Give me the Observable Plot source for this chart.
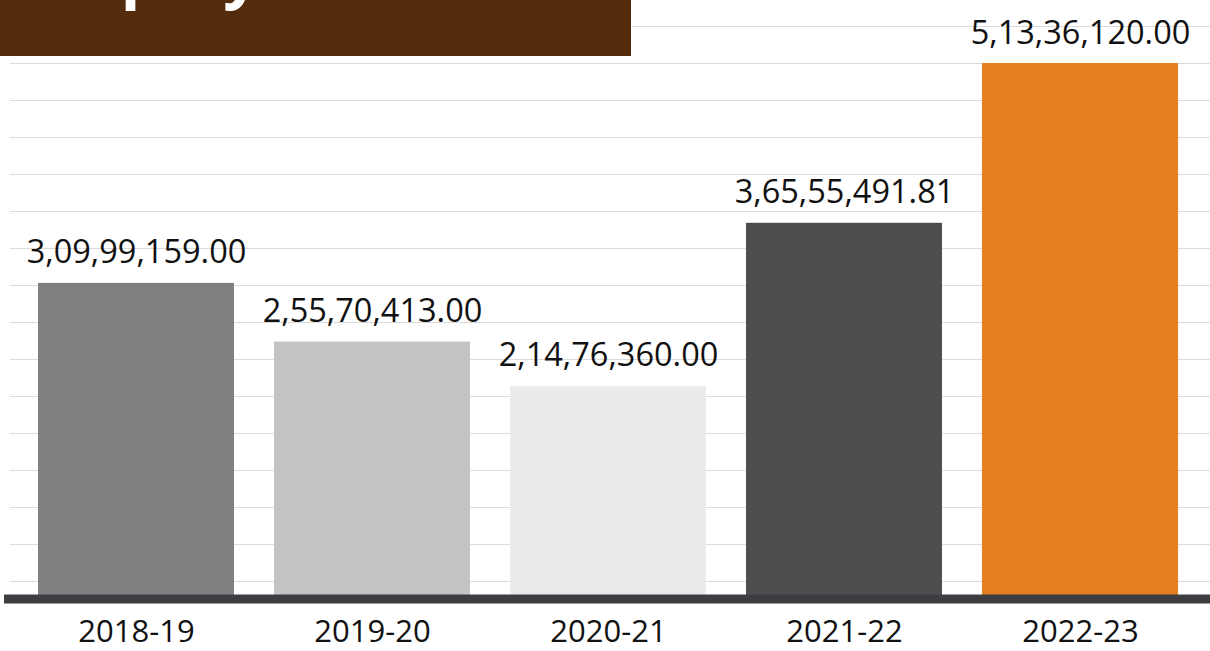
<!DOCTYPE html>
<html>
<head>
<meta charset="utf-8">
<script src="https://cdn.jsdelivr.net/npm/d3@7"></script>
<script src="https://cdn.jsdelivr.net/npm/@observablehq/plot@0.6"></script>
<style>
  html, body { margin: 0; padding: 0; background: #ffffff; overflow: hidden; }
  #wrap { position: relative; width: 1210px; height: 651px; overflow: hidden; }
  #title {
    position: absolute; left: 0; top: 0; width: 631px; height: 56px;
    background: #552c0b; overflow: hidden; z-index: 2;
  }
  #title span {
    position: absolute; left: 20px; top: -61px; line-height: 1;
    font-family: "Open Sans", sans-serif; font-weight: 700; font-size: 64px;
    letter-spacing: 1px; color: #ffffff; white-space: nowrap;
  }
  #chart { position: absolute; left: 0; top: 0; }
</style>
</head>
<body>
<div id="wrap">
  <div id="title"><span>Employee Benefits</span></div>
  <div id="chart"></div>
</div>
<script>
// Data
const years = ["2018-19", "2019-20", "2020-21", "2021-22", "2022-23"];
const amounts = [30999159.00, 25570413.00, 21476360.00, 36555491.81, 51336120.00];
const barColors = ["#808080", "#c3c3c3", "#ebebeb", "#4e4e4c", "#e67e22"];

// Indian-style number grouping (e.g. 3,09,99,159.00)
function fmtIN(v) {
  const [i, f] = v.toFixed(2).split(".");
  const last3 = i.slice(-3);
  let rest = i.slice(0, -3);
  rest = rest.replace(/\B(?=(\d{2})+(?!\d))/g, ",");
  return (rest ? rest + "," : "") + last3 + "." + f;
}

const data = years.map((year, i) => ({year, amount: amounts[i]}));

// scale: 16 equal background grid steps
const gridStep = 3422500;
const yMax = gridStep * 16;
const gridTicks = d3.range(1, 17).map(k => k * gridStep);

const chart = Plot.plot({
  width: 1210,
  height: 651,
  marginTop: 0,
  marginRight: 0,
  marginBottom: 52.5,
  marginLeft: 8,
  style: {fontFamily: "'Open Sans', sans-serif", background: "transparent", color: "#111111"},
  x: {domain: years, range: [18, 1198], paddingInner: 0.1695, paddingOuter: 0.0847},
  y: {domain: [0, yMax], range: [618, 26], axis: null},
  color: {domain: years, range: barColors},
  marks: [
    Plot.ruleY(gridTicks, {stroke: "#dadada", strokeWidth: 1, insetLeft: 2}),
    Plot.barY(data, {x: "year", y: "amount", fill: "year", clip: true}),
    Plot.frame({anchor: "bottom", stroke: "#3d3e42", strokeWidth: 9}),
    Plot.text(data, {
      x: "year", y: "amount", text: d => fmtIN(d.amount),
      lineAnchor: "bottom", dy: -20, fontSize: 32.5, fill: "#111111"
    }),
    Plot.axisX({tickSize: 0, tickPadding: 21, fontSize: 31, label: null, color: "#111111"})
  ]
});
document.getElementById("chart").appendChild(chart);
</script>
</body>
</html>
